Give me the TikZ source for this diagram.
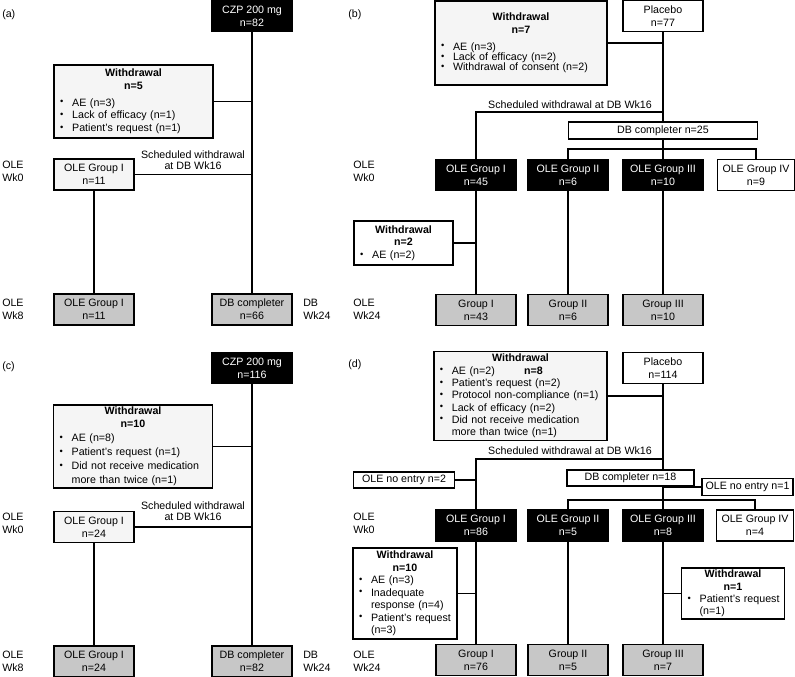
\documentclass[tikz,border=0pt]{standalone}
\usepackage{fontspec}
\setmainfont{Liberation Sans}
\newcommand{\itm}{\makebox[9pt][l]{\raisebox{.25ex}{\scriptsize\textbullet}}}
\newcommand{\ind}{\hspace*{9pt}}
\tikzset{
  box/.style={draw, line width=1.2pt, align=center, inner sep=1pt, minimum width=60pt, minimum height=23pt, font=\fontsize{8}{10}\selectfont},
  blk/.style={box, fill=black, text=white},
  wht/.style={box, fill=white},
  gry/.style={box, fill=black!22},
  pale/.style={box, fill=black!4},
  wdr/.style={draw, line width=1.2pt, align=left, inner xsep=4.5pt, inner ysep=1pt, font=\fontsize{8}{9.5}\selectfont},
  lbl/.style={align=left, anchor=west, inner sep=0pt, font=\fontsize{8}{9.5}\selectfont},
  note/.style={align=center, inner sep=0pt, font=\fontsize{8}{8.5}\selectfont},
  link/.style={line width=1.2pt},
}
\begin{document}
\begin{tikzpicture}[x=0.75pt,y=-0.75pt]
  \useasboundingbox (0,0) rectangle (795,677);
  % (a)
  \node[lbl] (la) at (2,15) {(a)};
  \node[lbl] (wa0) at (2,171) {OLE\\Wk0};
  \node[lbl] (wa8) at (2,309) {OLE\\Wk8};
  \node[lbl] (dwa) at (303,309) {DB\\Wk24};
  \node[blk] (czpA) at (252,16) {CZP 200 mg\\n=82};
  \node[wdr, fill=black!4, text width=110pt, minimum height=55pt] (wdA) at (133.5,101.5)
    {\centering\textbf{Withdrawal}\\\textbf{n=5}\par\vspace{3pt}\raggedright
     \itm AE (n=3)\\\itm Lack of efficacy (n=1)\\\itm Patient's request (n=1)};
  \node[note] (sA) at (193,160) {Scheduled withdrawal\\at DB Wk16};
  \node[pale] (oleA0) at (94,174.5) {OLE Group I\\n=11};
  \node[gry] (oleA8) at (94,309.5) {OLE Group I\\n=11};
  \node[gry] (dbA) at (252,309.5) {DB completer\\n=66};
  \draw[link] (czpA) -- (dbA);
  \draw[link] (wdA) -- (wdA -| czpA);
  \draw[link] (oleA0) -- (oleA0 -| czpA);
  \draw[link] (oleA0) -- (oleA8);
  % (b)
  \node[lbl] (lb) at (348,15) {(b)};
  \node[lbl] (wb0) at (353,171) {OLE\\Wk0};
  \node[lbl] (wb24) at (353,309) {OLE\\Wk24};
  \node[wht] (plB) at (663,16) {Placebo\\n=77};
  \node[wdr, fill=black!4, text width=120pt, minimum height=63pt] (wdB) at (521,43)
    {\centering\textbf{Withdrawal}\\\textbf{n=7}\par\vspace{5pt}\raggedright
     {\fontsize{8}{7.6}\selectfont\itm AE (n=3)\\\itm Lack of efficacy (n=2)\\\itm Withdrawal of consent (n=2)\par}};
  \node[note] (sB) at (570,105) {Scheduled withdrawal at DB Wk16};
  \coordinate (jB) at (663,112);
  \node[wht, minimum width=142pt, minimum height=13pt] (dbB) at (663,130.5) {DB completer n=25};
  \coordinate (kB) at (663,149);
  \node[blk] (g1B) at (476,175) {OLE Group I\\n=45};
  \node[blk] (g2B) at (568,175) {OLE Group II\\n=6};
  \node[blk] (g3B) at (663,175) {OLE Group III\\n=10};
  \node[wht, minimum width=58pt] (g4B) at (756,175) {OLE Group IV\\n=9};
  \node[wdr, fill=white, text width=65pt, minimum height=33pt] (wd2B) at (403.5,243)
    {\centering\textbf{Withdrawal}\\\textbf{n=2}\par\raggedright\itm AE (n=2)};
  \node[gry] (gr1B) at (476,310) {Group I\\n=43};
  \node[gry] (gr2B) at (568,310) {Group II\\n=6};
  \node[gry] (gr3B) at (663,310) {Group III\\n=10};
  \draw[link] (wdB) -- (wdB -| plB);
  \draw[link] (plB) -- (dbB);
  \draw[link] (jB) -| (g1B);
  \draw[link] (dbB) -- (g3B);
  \draw[link] (g2B) |- (kB) -| (g4B);
  \draw[link] (wd2B) -- (wd2B -| g1B);
  \draw[link] (g1B) -- (gr1B);
  \draw[link] (g2B) -- (gr2B);
  \draw[link] (g3B) -- (gr3B);
  % (c)
  \node[lbl] (lc) at (2,367) {(c)};
  \node[lbl] (wc0) at (2,523) {OLE\\Wk0};
  \node[lbl] (wc8) at (2,661) {OLE\\Wk8};
  \node[lbl] (dwc) at (303,661) {DB\\Wk24};
  \node[blk] (czpC) at (252,368) {CZP 200 mg\\n=116};
  \node[wdr, fill=black!4, text width=110pt, minimum height=62pt] (wdC) at (133,446.5)
    {\centering\textbf{Withdrawal}\\\textbf{n=10}\par\raggedright
     {\fontsize{8}{10.5}\selectfont\itm AE (n=8)\\\itm Patient's request (n=1)\\\itm Did not receive medication\\\ind more than twice (n=1)\par}};
  \node[note] (sC) at (193,511) {Scheduled withdrawal\\at DB Wk16};
  \node[pale] (oleC0) at (94,527) {OLE Group I\\n=24};
  \node[gry] (oleC8) at (94,661.5) {OLE Group I\\n=24};
  \node[gry] (dbC) at (252,661.5) {DB completer\\n=82};
  \draw[link] (czpC) -- (dbC);
  \draw[link] (wdC) -- (wdC -| czpC);
  \draw[link] (oleC0) -- (oleC0 -| czpC);
  \draw[link] (oleC0) -- (oleC8);
  % (d)
  \node[lbl] (ld) at (348,365) {(d)};
  \node[lbl] (wd0) at (353,523) {OLE\\Wk0};
  \node[lbl] (wd24) at (353,661) {OLE\\Wk24};
  \node[wht] (plD) at (663,368) {Placebo\\n=114};
  \node[wdr, fill=black!4, text width=121pt, minimum height=67pt] (wdD) at (520.5,396)
    {\centering\textbf{Withdrawal}\par\raggedright
     {\fontsize{8}{9.2}\selectfont\itm AE (n=2)\hspace{22pt}\textbf{n=8}\\\itm Patient's request (n=2)\\\itm Protocol non-compliance (n=1)\\\itm Lack of efficacy (n=2)\\\itm Did not receive medication\\\ind more than twice (n=1)\par}};
  \node[note] (sD) at (570,451) {Scheduled withdrawal at DB Wk16};
  \coordinate (jD) at (663,459);
  \node[wht, minimum width=76pt, minimum height=12pt] (ne2D) at (404,480) {OLE no entry n=2};
  \node[wht, minimum width=95pt, minimum height=12pt] (dbD) at (630.5,478) {DB completer n=18};
  \node[wht, minimum width=68pt, minimum height=13pt] (ne1D) at (747.5,487) {OLE no entry n=1};
  \coordinate (kD) at (663,500);
  \node[blk] (g1D) at (476,525.5) {OLE Group I\\n=86};
  \node[blk] (g2D) at (568,525.5) {OLE Group II\\n=5};
  \node[blk] (g3D) at (663,525.5) {OLE Group III\\n=8};
  \node[wht, minimum width=58pt] (g4D) at (755,525.5) {OLE Group IV\\n=4};
  \node[wdr, fill=white, text width=69pt, minimum height=68pt] (wd10D) at (405,593.5)
    {\centering\textbf{Withdrawal}\\\textbf{n=10}\par\raggedright
     {\fontsize{8}{9.4}\selectfont\itm AE (n=3)\\\itm Inadequate\\\ind response (n=4)\\\itm \mbox{Patient's request}\\\ind (n=3)\par}};
  \node[wdr, fill=white, text width=68pt, minimum height=38pt] (wd1D) at (733,593.5)
    {\centering\textbf{Withdrawal}\\\textbf{n=1}\par\raggedright
     {\fontsize{8}{9.2}\selectfont\itm \mbox{Patient's request}\\\ind (n=1)\par}};
  \node[gry] (gr1D) at (476,660) {Group I\\n=76};
  \node[gry] (gr2D) at (568,660) {Group II\\n=5};
  \node[gry] (gr3D) at (663,660) {Group III\\n=7};
  \draw[link] (wdD) -- (wdD -| plD);
  \draw[link] (plD) -- (plD |- dbD.north);
  \draw[link] (jD) -| (g1D);
  \draw[link] (ne2D) -- (ne2D -| g1D);
  \draw[link] (plD |- dbD.south) -- (g3D);
  \draw[link] (ne1D) -- (ne1D -| plD);
  \draw[link] (g2D) |- (kD) -| (g4D);
  \draw[link] (wd10D) -- (wd10D -| g1D);
  \draw[link] (wd1D) -- (wd1D -| g3D);
  \draw[link] (g1D) -- (gr1D);
  \draw[link] (g2D) -- (gr2D);
  \draw[link] (g3D) -- (gr3D);
\end{tikzpicture}
\end{document}
